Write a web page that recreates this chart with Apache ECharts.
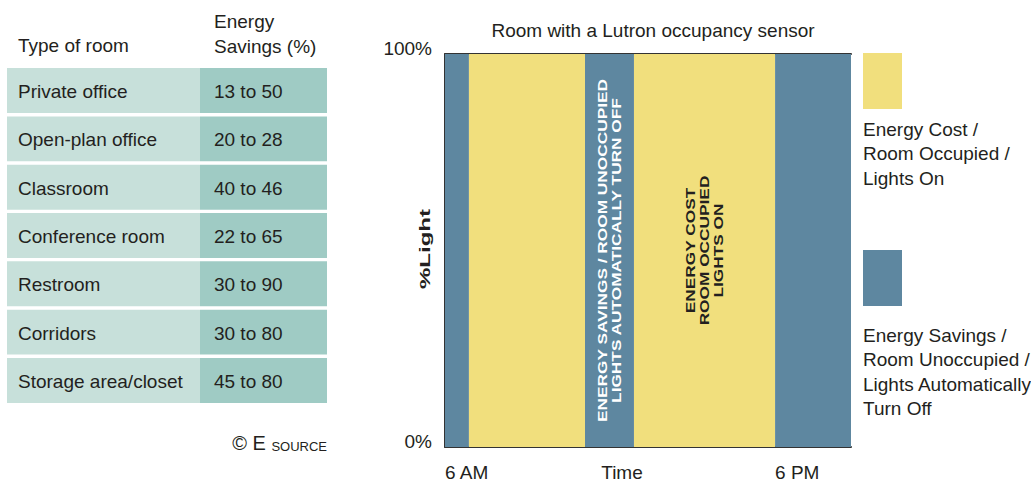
<!DOCTYPE html>
<html>
<head>
<meta charset="utf-8">
<script src="https://cdn.jsdelivr.net/npm/echarts@6/dist/echarts.min.js"></script>
<style>
html,body{margin:0;padding:0;background:#fff;}
#chart{width:1031px;height:487px;}
</style>
</head>
<body>
<div id="chart"></div>
<script>
// Savings table
const tableHeaders = ['Type of room', 'Energy\nSavings (%)'];
const roomTypes = ['Private office', 'Open-plan office', 'Classroom', 'Conference room', 'Restroom', 'Corridors', 'Storage area/closet'];
const savingsRanges = ['13 to 50', '20 to 28', '40 to 46', '22 to 65', '30 to 90', '30 to 80', '45 to 80'];

// Lighting periods over the day (hours), light level in %
const periodStart = [6, 6.87, 11.09, 12.87, 18];
const periodEnd = [6.87, 11.09, 12.87, 18, 20.76];
const periodLight = [100, 100, 100, 100, 100];
const periodState = ['off', 'on', 'off', 'on', 'off'];
const periodLabels = ['', '', 'ENERGY SAVINGS / ROOM UNOCCUPIED\nLIGHTS AUTOMATICALLY TURN OFF', 'ENERGY COST\nROOM OCCUPIED\nLIGHTS ON', ''];

// Axis ticks
const tickHours = [6, 18];
const tickLabels = ['6 AM', '6 PM'];
const lightTicks = [0, 100];

// Legend
const legendStates = ['on', 'off'];
const legendLabels = ['Energy Cost /\nRoom Occupied /\nLights On', 'Energy Savings /\nRoom Unoccupied /\nLights Automatically\nTurn Off'];

const SANS = '"Liberation Sans", Arial, sans-serif';
const FS = 19;
const INK = '#231f20';
const STATE_COLOR = { on: '#f1df7d', off: '#5e87a0' };
const CELL_COLOR = ['#c7e0da', '#9fcbc4'];
const COL_EDGES = [0, 0.603, 1];
const COL_PAD = [11, 14];

const periodData = periodStart.map((s, i) => [s, periodEnd[i], periodLight[i]]);
const cellData = [];
roomTypes.forEach((r, i) => {
  cellData.push([0, i, r]);
  cellData.push([1, i, savingsRanges[i]]);
});

function renderPeriod(params, api) {
  const i = params.dataIndex;
  const p0 = api.coord([api.value(0), 0]);
  const p1 = api.coord([api.value(1), api.value(2)]);
  const children = [{
    type: 'rect',
    shape: { x: p0[0], y: p1[1], width: p1[0] - p0[0], height: p0[1] - p1[1] },
    style: { fill: STATE_COLOR[periodState[i]] }
  }];
  if (periodLabels[i]) {
    children.push({
      type: 'text',
      x: (p0[0] + p1[0]) / 2,
      y: (p0[1] + p1[1]) / 2,
      rotation: Math.PI / 2,
      scaleX: 1.33,
      style: {
        text: periodLabels[i],
        fill: periodState[i] === 'off' ? '#ffffff' : INK,
        fontFamily: SANS, fontWeight: 'bold', fontSize: 13, lineHeight: 14,
        align: 'center', verticalAlign: 'middle'
      }
    });
  }
  return { type: 'group', children };
}

function renderCell(params, api) {
  const col = api.value(0);
  const row = api.value(1);
  const a = api.coord([COL_EDGES[col], row]);
  const b = api.coord([COL_EDGES[col + 1], row]);
  const bandH = api.size([0, 1])[1];
  const gap = 3.4;
  return {
    type: 'group',
    children: [{
      type: 'rect',
      shape: { x: a[0], y: a[1] - bandH / 2 + gap / 2, width: b[0] - a[0], height: bandH - gap },
      style: { fill: CELL_COLOR[col] }
    }, {
      type: 'text',
      x: a[0] + COL_PAD[col],
      y: a[1] + 1,
      style: {
        text: cellData[params.dataIndex][2],
        fill: INK, fontFamily: SANS, fontSize: FS,
        align: 'left', verticalAlign: 'middle'
      }
    }]
  };
}

const legendGraphics = [];
const legendTops = [53, 250];
const legendTextTops = [117, 323];
legendStates.forEach((s, i) => {
  legendGraphics.push({
    type: 'rect', left: 863, top: legendTops[i],
    shape: { width: 39, height: 56 },
    style: { fill: STATE_COLOR[s] }
  });
  legendGraphics.push({
    type: 'text', left: 863, top: legendTextTops[i],
    style: { text: legendLabels[i], fill: INK, font: FS + 'px ' + SANS, lineHeight: 24.5 }
  });
});

const chart = echarts.init(document.getElementById('chart'), null, { renderer: 'svg' });
chart.setOption({
  animation: false,
  backgroundColor: '#ffffff',
  title: {
    text: 'Room with a Lutron occupancy sensor',
    left: 648, top: 16, textAlign: 'center',
    textStyle: { fontFamily: SANS, fontSize: FS, fontWeight: 'normal', color: INK }
  },
  grid: [
    { left: 445, right: 180, top: 54, bottom: 40, outerBoundsMode: 'none' },
    { left: 7, right: 704, top: 66.4, bottom: 82.4, outerBoundsMode: 'none' }
  ],
  xAxis: [{
    type: 'value', gridIndex: 0, min: 6, max: 20.76, interval: 6,
    name: 'Time', nameLocation: 'middle', nameGap: 16, nameMoveOverlap: false,
    nameTextStyle: { fontFamily: SANS, fontSize: FS, color: INK, padding: [0, 52, 0, 0], verticalAlign: 'top' },
    axisLine: { show: true, lineStyle: { color: '#333', width: 2 } },
    axisTick: { show: false }, splitLine: { show: false },
    axisLabel: {
      margin: 16, align: 'left', verticalAlign: 'top',
      fontFamily: SANS, fontSize: FS, color: INK,
      formatter: v => { const k = tickHours.indexOf(v); return k >= 0 ? tickLabels[k] : ''; }
    }
  }, {
    type: 'value', gridIndex: 0, position: 'top', min: 6, max: 20.76, interval: 6,
    axisLine: { show: true, lineStyle: { color: '#333', width: 2 } },
    axisTick: { show: false }, splitLine: { show: false }, axisLabel: { show: false }
  }, {
    type: 'value', gridIndex: 1, min: 0, max: 1, show: false
  }],
  yAxis: [{
    type: 'value', gridIndex: 0, min: 0, max: 100, interval: 100,
    axisLine: { show: true, lineStyle: { color: '#333', width: 2 } },
    axisTick: { show: false }, splitLine: { show: false },
    axisLabel: {
      margin: 13, verticalAlign: 'bottom', lineHeight: 12,
      fontFamily: SANS, fontSize: FS, color: INK,
      formatter: v => lightTicks.indexOf(v) >= 0 ? v + '%' : ''
    }
  }, {
    type: 'category', gridIndex: 1, data: roomTypes, inverse: true, show: false
  }],
  graphic: [
    {
      type: 'text', x: 425, y: 249, rotation: Math.PI / 2, scaleX: 1.6,
      style: { text: '%Light', fill: INK, font: 'bold 15px ' + SANS, align: 'center', verticalAlign: 'middle' }
    },
    {
      type: 'text', left: 18, top: 36,
      style: { text: tableHeaders[0], fill: INK, font: FS + 'px ' + SANS }
    },
    {
      type: 'text', left: 214, top: 9,
      style: { text: tableHeaders[1], fill: INK, font: FS + 'px ' + SANS, lineHeight: 25 }
    },
    {
      type: 'text', right: 1031 - 327, top: 433,
      style: {
        text: '{a|\u00A9 E }{b|SOURCE}',
        fill: INK,
        rich: {
          a: { fontFamily: SANS, fontSize: 20, fill: INK },
          b: { fontFamily: SANS, fontSize: 13, fill: INK, verticalAlign: 'bottom' }
        }
      }
    }
  ].concat(legendGraphics),
  series: [{
    type: 'custom', xAxisIndex: 0, yAxisIndex: 0,
    renderItem: renderPeriod, data: periodData,
    encode: { x: [0, 1], y: 2 }, silent: true
  }, {
    type: 'custom', xAxisIndex: 2, yAxisIndex: 1,
    renderItem: renderCell, data: cellData,
    encode: { x: 0, y: 1 }, silent: true
  }]
});
</script>
</body>
</html>
